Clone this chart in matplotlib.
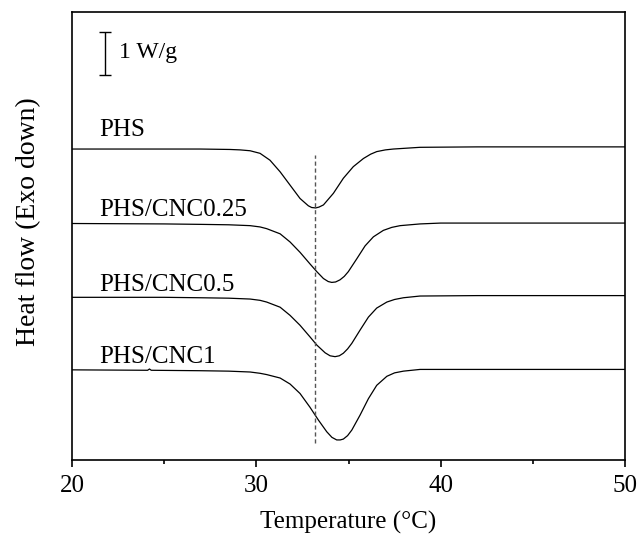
import matplotlib
matplotlib.use("Agg")
import matplotlib.pyplot as plt
from matplotlib.ticker import MultipleLocator

plt.rcParams['font.family'] = ['Liberation Serif', 'DejaVu Serif']
plt.rcParams['font.size'] = 18

# Curvas DSC (flujo de calor relativo a la línea base, W/g)
t_phs = [20, 25, 26.95, 28.57, 29.12, 29.66, 30.2, 30.74, 31.29, 31.83, 32.37, 32.82,
         33.0, 33.22, 33.4, 33.64, 34.18, 34.72, 35.26, 35.81, 36.2, 36.53, 37.0,
         37.43, 38.88, 42, 50]
hf_phs = [0, 0, 0, -0.01, -0.02, -0.04, -0.10, -0.26, -0.53, -0.84, -1.15, -1.32,
          -1.36, -1.37, -1.35, -1.30, -1.03, -0.68, -0.41, -0.22, -0.12, -0.06, -0.02,
          0.0, 0.04, 0.05, 0.05]

t_025 = [20, 25, 26.95, 28.5, 29.66, 30.2, 30.56, 31.29, 31.83, 32.37, 32.91, 33.28,
         33.64, 33.9, 34.09, 34.3, 34.54, 34.77, 34.99, 35.45, 35.90, 36.35, 36.89,
         37.35, 37.80, 38.88, 40, 50]
hf_025 = [0.02, 0.01, 0, -0.01, -0.03, -0.06, -0.10, -0.22, -0.41, -0.65, -0.92, -1.10,
          -1.26, -1.33, -1.35, -1.34, -1.29, -1.21, -1.10, -0.80, -0.50, -0.29, -0.14,
          -0.07, -0.03, 0.01, 0.03, 0.03]

t_05 = [20, 25, 26.95, 28.5, 29.66, 30.2, 30.56, 31.29, 31.83, 32.37, 32.91, 33.28,
        33.73, 34.0, 34.27, 34.5, 34.72, 34.95, 35.18, 35.63, 36.08, 36.53, 37.08,
        37.5, 37.98, 38.88, 42, 50]
hf_05 = [0.01, 0.01, 0, -0.01, -0.03, -0.06, -0.10, -0.22, -0.41, -0.64, -0.91, -1.10,
         -1.28, -1.35, -1.37, -1.35, -1.29, -1.19, -1.06, -0.75, -0.45, -0.24, -0.10,
         -0.04, 0, 0.04, 0.05, 0.05]

t_1 = [20, 24.1, 24.2, 24.3, 26.95, 28.5, 29.66, 30.2, 30.56, 31.29, 31.83, 32.37,
       32.91, 33.37, 33.82, 34.1, 34.36, 34.55, 34.72, 34.95, 35.18, 35.63, 36.08,
       36.53, 37.08, 37.5, 37.98, 38.88, 42, 50]
hf_1 = [0.02, 0.01, 0.04, 0.01, 0, -0.01, -0.03, -0.06, -0.09, -0.17, -0.31, -0.53,
        -0.85, -1.15, -1.42, -1.55, -1.61, -1.61, -1.59, -1.51, -1.38, -1.03, -0.65,
        -0.34, -0.13, -0.05, -0.01, 0.03, 0.03, 0.03]

etiquetas = ["PHS", "PHS/CNC0.25", "PHS/CNC0.5", "PHS/CNC1"]
desplazamientos = [7.233, 5.481, 3.774, 2.077]
pos_etiquetas = [7.67, 5.81, 4.07, 2.40]
t_pico = 33.18

fig = plt.figure(figsize=(6.38, 5.41), dpi=100)
ax = fig.add_axes([0.1129, 0.1497, 0.8667, 0.8281])

curvas = [(t_phs, hf_phs), (t_025, hf_025), (t_05, hf_05), (t_1, hf_1)]
for (t, hf), off, nombre, yl in zip(curvas, desplazamientos, etiquetas, pos_etiquetas):
    ax.plot(t, [v + off for v in hf], color="black", lw=0.9)
    ax.text(21.5, yl, nombre, ha="left", va="center")

# línea de referencia del pico de PHS
ax.plot([t_pico, t_pico], [0.40, 7.09], color="#555555", lw=1.0, ls=(0, (3, 2)))

# barra de escala 1 W/g
ax.errorbar([21.79], [9.45], yerr=[[0.5], [0.5]], color="black", lw=1.0,
            capsize=4, capthick=1.0)
ax.text(22.55, 9.47, "1 W/g", ha="left", va="center", fontsize=17)

ax.set_xlim(20, 50)
ax.set_ylim(0, 10.42)
ax.xaxis.set_major_locator(MultipleLocator(10))
ax.xaxis.set_minor_locator(MultipleLocator(5))
ax.tick_params(axis="x", which="major", direction="out", length=5, width=1.2, pad=6)
ax.tick_params(axis="x", which="minor", direction="out", length=3, width=1.2)
ax.set_yticks([])
for s in ax.spines.values():
    s.set_linewidth(1.2)

ax.set_xlabel("Temperature (°C)", labelpad=10)
ax.set_ylabel("Heat flow (Exo down)", fontsize=20)
ax.yaxis.set_label_coords(-0.056, 0.531)

fig.savefig("out.png", dpi=100)
